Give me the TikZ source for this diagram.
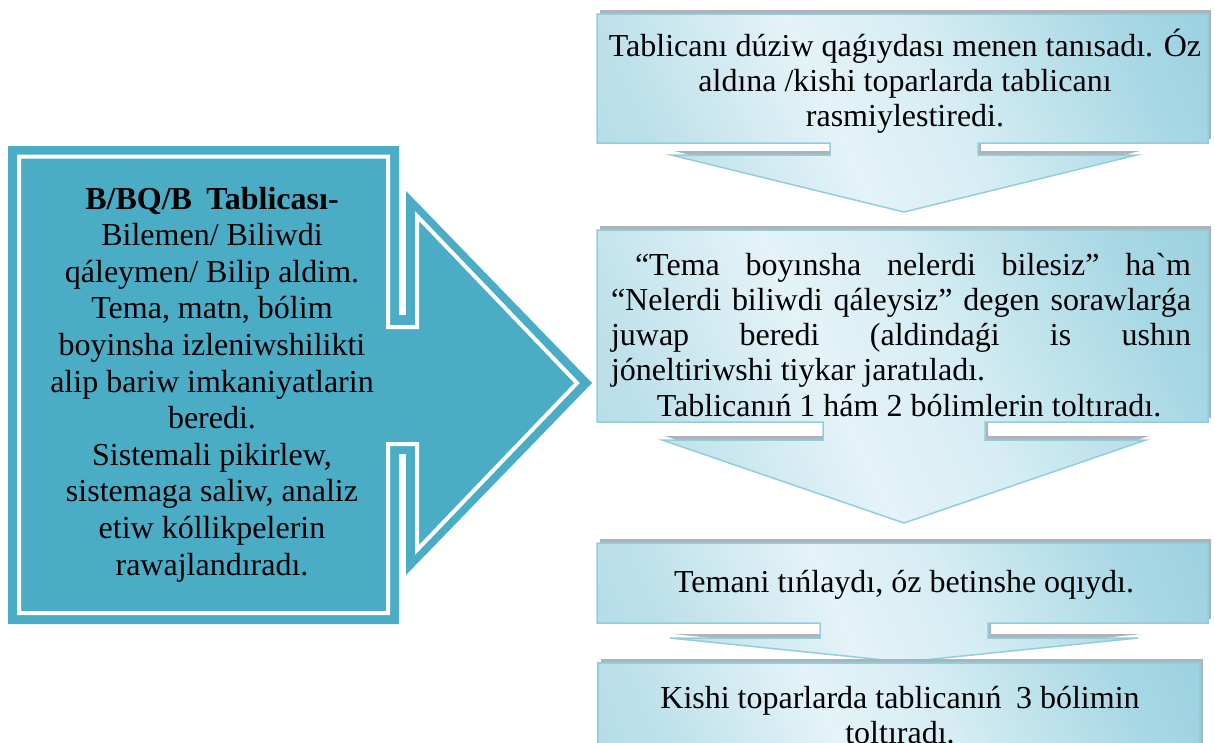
\documentclass[tikz,border=0pt]{standalone}
\usepackage{fontspec}
\setmainfont{Liberation Serif}[Ligatures=TeXOff]
\definecolor{leftblue}{HTML}{4BACC6}
\definecolor{cLow}{HTML}{A2D4E1}
\definecolor{cLowB}{HTML}{BCE0EA}
\definecolor{cMid}{HTML}{E4F3F7}
\definecolor{cMidB}{HTML}{D6EDF3}
\definecolor{cHighB}{HTML}{A6D7E4}
\definecolor{cHigh}{HTML}{88C7D8}
\definecolor{cEdge}{HTML}{93CDDD}
\definecolor{shadowgray}{HTML}{AEB3B5}
\pgfdeclarehorizontalshading{calshade}{100bp}{color(0bp)=(cLow); color(25bp)=(cLowB); color(43bp)=(cMid); color(55bp)=(cMidB); color(75bp)=(cHighB); color(100bp)=(cHigh)}
\tikzset{
  callout/.style={shade, shading=calshade, shading angle=25, draw=cEdge, line width=1.5pt, line join=miter},
  shadowpath/.style={fill=shadowgray, draw=none},
  bigarrow/.style={fill=leftblue, draw=none},
  whiteline/.style={draw=white, line width=4pt, line join=miter},
  txt/.style={anchor=base, inner sep=0pt},
}
\newcommand{\rtxt}{\fontsize{32}{35.3}\selectfont}
\newcommand{\ltxt}{\fontsize{32}{36.6}\selectfont}
\begin{document}
\begin{tikzpicture}[x=1pt,y=-1pt]
\useasboundingbox (0,0) rectangle (1215,742);
\clip (0,0) rectangle (1215,742);
% left arrow callout
\fill[bigarrow] (8,146) -- (399,146) -- (399,315) -- (406,315) -- (406,191) -- (592,383) -- (406,575) -- (406,454) -- (399,454) -- (399,624) -- (8,624) -- cycle;
\draw[whiteline] (19,156.5) -- (388,156.5) -- (388,327) -- (417,327) -- (417,216) -- (577,383) -- (417,550) -- (417,444) -- (388,444) -- (388,613) -- (19,613) -- cycle;
\node[txt] (ltext) at (212,209) {\parbox[t]{390pt}{\centering\ltxt
\textbf{B/BQ/B\hspace{0.45em}Tablicası-}\\
Bilemen/ Biliwdi\\
qáleymen/ Bilip aldim.\\
Tema, matn, bólim\\
boyinsha izleniwshilikti\\
alip bariw imkaniyatlarin\\
beredi.\\
Sistemali pikirlew,\\
sistemaga saliw, analiz\\
etiw kóllikpelerin\\
rawajlandıradı.}};
% box 1
\fill[shadowpath,shift={(3,-4)}] (597,14) -- (1208,14) -- (1208,143) -- (978,143) -- (978,155) -- (1137,155) -- (904,212) -- (671,155) -- (830,155) -- (830,143) -- (597,143) -- cycle;
\path[callout] (597,14) -- (1208,14) -- (1208,143) -- (978,143) -- (978,155) -- (1137,155) -- (904,212) -- (671,155) -- (830,155) -- (830,143) -- (597,143) -- cycle;
\node[txt] (t1) at (905,56) {\parbox[t]{610pt}{\centering\rtxt
Tablicanı dúziw qaǵıydası menen tanısadı. Óz\\
aldına /kishi toparlarda tablicanı\\
rasmiylestiredi.}};
% box 2
\fill[shadowpath,shift={(3,-4)}] (597,230) -- (1208,230) -- (1208,422) -- (985,422) -- (985,440) -- (1146,440) -- (904,523) -- (662,440) -- (823,440) -- (823,422) -- (597,422) -- cycle;
\path[callout] (597,230) -- (1208,230) -- (1208,422) -- (985,422) -- (985,440) -- (1146,440) -- (904,523) -- (662,440) -- (823,440) -- (823,422) -- (597,422) -- cycle;
\node[txt] (t2) at (901,275) {\parbox[t]{580pt}{\rtxt\tolerance=10000\hbadness=10000\noindent\hspace*{24pt}“Tema boyınsha nelerdi bilesiz” ha`m\linebreak
“Nelerdi biliwdi qáleysiz” degen sorawlarǵa\linebreak
juwap beredi (aldindaǵi is ushın\linebreak
jóneltiriwshi tiykar jaratıladı.\par
{\centering\hspace*{16pt}Tablicanıń 1 hám 2 bólimlerin toltıradı.\par}}};
% box 3
\fill[shadowpath,shift={(3,-4)}] (597,543) -- (1208,543) -- (1208,623) -- (988,623) -- (988,638) -- (1138,638) -- (904,662) -- (670,638) -- (820,638) -- (820,623) -- (597,623) -- cycle;
\path[callout] (597,543) -- (1208,543) -- (1208,623) -- (988,623) -- (988,638) -- (1138,638) -- (904,662) -- (670,638) -- (820,638) -- (820,623) -- (597,623) -- cycle;
\node[txt] (t3) at (904,592) {\rtxt Temani tıńlaydı, óz betinshe oqıydı.};
% box 4
\fill[shadowpath,shift={(3,-4)}] (598,663) rectangle (1200,790);
\path[callout] (598,663) rectangle (1200,790);
\node[txt] (t4) at (900,708) {\parbox[t]{600pt}{\centering\rtxt
Kishi toparlarda tablicanıń\hspace{0.45em}3 bólimin\\
toltıradı.}};
\end{tikzpicture}
\end{document}
